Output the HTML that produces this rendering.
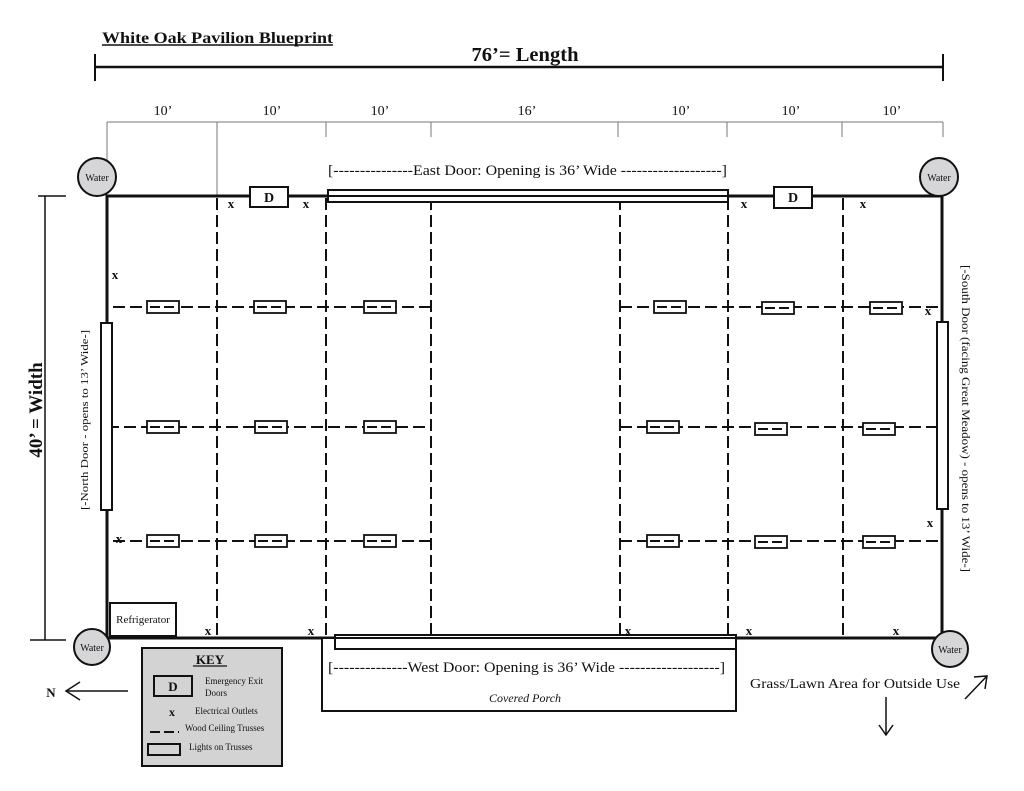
<!DOCTYPE html>
<html><head><style>
html,body{margin:0;padding:0;background:#fff;}
svg{display:block;}
text{font-family:"Liberation Serif",serif;fill:#111;}
</style></head><body>
<svg width="1024" height="791" viewBox="0 0 1024 791" xmlns="http://www.w3.org/2000/svg">
<!-- title -->
<text x="102" y="43" font-size="16" font-weight="bold" textLength="231" lengthAdjust="spacingAndGlyphs">White Oak Pavilion Blueprint</text>
<line x1="102" y1="45" x2="333" y2="45" stroke="#111" stroke-width="1.5"/>
<!-- length -->
<line x1="95" y1="67" x2="943" y2="67" stroke="#111" stroke-width="2.5"/>
<line x1="95" y1="54" x2="95" y2="81" stroke="#111" stroke-width="2"/>
<line x1="943" y1="54" x2="943" y2="81" stroke="#111" stroke-width="2"/>
<text x="525" y="61" font-size="20" font-weight="bold" text-anchor="middle" textLength="107" lengthAdjust="spacingAndGlyphs">76’= Length</text>
<!-- dimension ticks -->
<g stroke="#777" stroke-width="1">
<line x1="107" y1="122" x2="943" y2="122"/>
<line x1="107" y1="122" x2="107" y2="196"/>
<line x1="217" y1="122" x2="217" y2="196"/>
<line x1="326" y1="122" x2="326" y2="137"/>
<line x1="431" y1="122" x2="431" y2="137"/>
<line x1="618" y1="122" x2="618" y2="137"/>
<line x1="727" y1="122" x2="727" y2="137"/>
<line x1="842" y1="122" x2="842" y2="137"/>
<line x1="943" y1="122" x2="943" y2="137"/>
</g>
<g font-size="14" text-anchor="middle">
<text x="163" y="115">10’</text><text x="272" y="115">10’</text><text x="380" y="115">10’</text>
<text x="527" y="115">16’</text><text x="681" y="115">10’</text><text x="791" y="115">10’</text><text x="892" y="115">10’</text>
</g>
<!-- width -->
<line x1="45" y1="196" x2="45" y2="640" stroke="#111" stroke-width="1.5"/>
<line x1="38" y1="196" x2="66" y2="196" stroke="#111" stroke-width="1.5"/>
<line x1="30" y1="640" x2="66" y2="640" stroke="#111" stroke-width="1.5"/>
<text transform="translate(42,410) rotate(-90)" font-size="19" font-weight="bold" text-anchor="middle">40’ = Width</text>
<!-- trusses -->
<g stroke="#111" stroke-width="2" stroke-dasharray="12,5">
<line x1="217" y1="198" x2="217" y2="638"/>
<line x1="326" y1="198" x2="326" y2="638"/>
<line x1="431" y1="198" x2="431" y2="638"/>
<line x1="620" y1="198" x2="620" y2="638"/>
<line x1="728" y1="198" x2="728" y2="638"/>
<line x1="843" y1="198" x2="843" y2="638"/>
<line x1="113" y1="307" x2="431" y2="307"/>
<line x1="107" y1="427" x2="431" y2="427"/>
<line x1="113" y1="541" x2="431" y2="541"/>
<line x1="620" y1="307" x2="941" y2="307"/>
<line x1="620" y1="427" x2="941" y2="427"/>
<line x1="620" y1="541" x2="941" y2="541"/>
</g>
<!-- lights -->
<g fill="#fff" stroke="#111" stroke-width="1.8">
<rect x="147" y="301" width="32" height="12"/><rect x="254" y="301" width="32" height="12"/><rect x="364" y="301" width="32" height="12"/>
<rect x="147" y="421" width="32" height="12"/><rect x="255" y="421" width="32" height="12"/><rect x="364" y="421" width="32" height="12"/>
<rect x="147" y="535" width="32" height="12"/><rect x="255" y="535" width="32" height="12"/><rect x="364" y="535" width="32" height="12"/>
<rect x="654" y="301" width="32" height="12"/><rect x="762" y="302" width="32" height="12"/><rect x="870" y="302" width="32" height="12"/>
<rect x="647" y="421" width="32" height="12"/><rect x="755" y="423" width="32" height="12"/><rect x="863" y="423" width="32" height="12"/>
<rect x="647" y="535" width="32" height="12"/><rect x="755" y="536" width="32" height="12"/><rect x="863" y="536" width="32" height="12"/>
</g>
<g stroke="#111" stroke-width="2" stroke-dasharray="10,4">
<line x1="150" y1="307" x2="178" y2="307"/><line x1="257" y1="307" x2="285" y2="307"/><line x1="367" y1="307" x2="395" y2="307"/>
<line x1="150" y1="427" x2="178" y2="427"/><line x1="258" y1="427" x2="286" y2="427"/><line x1="367" y1="427" x2="395" y2="427"/>
<line x1="150" y1="541" x2="178" y2="541"/><line x1="258" y1="541" x2="286" y2="541"/><line x1="367" y1="541" x2="395" y2="541"/>
<line x1="657" y1="307" x2="685" y2="307"/><line x1="765" y1="308" x2="793" y2="308"/><line x1="873" y1="308" x2="901" y2="308"/>
<line x1="650" y1="427" x2="678" y2="427"/><line x1="758" y1="429" x2="786" y2="429"/><line x1="866" y1="429" x2="894" y2="429"/>
<line x1="650" y1="541" x2="678" y2="541"/><line x1="758" y1="542" x2="786" y2="542"/><line x1="866" y1="542" x2="894" y2="542"/>
</g>
<!-- walls -->
<rect x="107" y="196" width="835" height="442" fill="none" stroke="#111" stroke-width="3"/>
<!-- east door -->
<rect x="328" y="190" width="400" height="12" fill="#fff" stroke="#111" stroke-width="2"/>
<line x1="328" y1="196" x2="728" y2="196" stroke="#111" stroke-width="2"/>
<text x="328" y="175" font-size="15" textLength="399" lengthAdjust="spacingAndGlyphs">[---------------East Door: Opening is 36’ Wide -------------------]</text>
<!-- west porch -->
<rect x="322" y="638" width="414" height="73" fill="#fff" stroke="#111" stroke-width="2"/>
<rect x="335" y="635" width="401" height="14" fill="#fff" stroke="#111" stroke-width="2"/>
<line x1="335" y1="638" x2="736" y2="638" stroke="#111" stroke-width="2"/>
<text x="328" y="672" font-size="15" textLength="397" lengthAdjust="spacingAndGlyphs">[--------------West Door: Opening is 36’ Wide -------------------]</text>
<text x="525" y="702" font-size="12" font-style="italic" text-anchor="middle">Covered Porch</text>
<!-- D boxes -->
<rect x="250" y="187" width="38" height="20" fill="#fff" stroke="#111" stroke-width="2"/>
<text x="269" y="202" font-size="14" font-weight="bold" text-anchor="middle">D</text>
<rect x="774" y="187" width="38" height="21" fill="#fff" stroke="#111" stroke-width="2"/>
<text x="793" y="202" font-size="14" font-weight="bold" text-anchor="middle">D</text>
<!-- side doors -->
<rect x="101" y="323" width="11" height="187" fill="#fff" stroke="#111" stroke-width="2"/>
<rect x="937" y="322" width="11" height="187" fill="#fff" stroke="#111" stroke-width="2"/>
<text transform="translate(88,510) rotate(-90)" font-size="11" fill="#333" textLength="180" lengthAdjust="spacingAndGlyphs">[-North Door - opens to 13’ Wide-]</text>
<text transform="translate(962,265) rotate(90)" font-size="12" fill="#333" textLength="307" lengthAdjust="spacingAndGlyphs">[-South Door (facing Great Meadow) - opens to 13’ Wide-]</text>
<!-- outlets -->
<g font-size="13" font-weight="bold" text-anchor="middle">
<text x="231" y="208">x</text><text x="306" y="208">x</text><text x="744" y="208">x</text><text x="863" y="208">x</text>
<text x="115" y="279">x</text><text x="119" y="543">x</text><text x="928" y="315">x</text><text x="930" y="527">x</text>
<text x="208" y="635">x</text><text x="311" y="635">x</text><text x="628" y="635">x</text><text x="749" y="635">x</text><text x="896" y="635">x</text>
</g>
<!-- refrigerator -->
<rect x="110" y="603" width="66" height="33" fill="#fff" stroke="#111" stroke-width="2"/>
<text x="143" y="623" font-size="11" text-anchor="middle">Refrigerator</text>
<!-- water -->
<g fill="#d6d6d8" stroke="#111" stroke-width="2">
<circle cx="97" cy="177" r="19"/><circle cx="939" cy="177" r="19"/>
<circle cx="92" cy="647" r="18"/><circle cx="950" cy="649" r="18"/>
</g>
<g font-size="10" text-anchor="middle">
<text x="97" y="181">Water</text><text x="939" y="181">Water</text>
<text x="92" y="651">Water</text><text x="950" y="653">Water</text>
</g>
<!-- key -->
<rect x="142" y="648" width="140" height="118" fill="#d3d3d3" stroke="#111" stroke-width="2"/>
<text x="210" y="664" font-size="13" font-weight="bold" text-anchor="middle">KEY</text>
<line x1="193" y1="666" x2="227" y2="666" stroke="#111" stroke-width="1.2"/>
<rect x="154" y="676" width="38" height="20" fill="#d3d3d3" stroke="#111" stroke-width="2"/>
<text x="173" y="691" font-size="13" font-weight="bold" text-anchor="middle">D</text>
<text x="205" y="684" font-size="9">Emergency Exit</text>
<text x="205" y="696" font-size="9">Doors</text>
<text x="172" y="716" font-size="12" font-weight="bold" text-anchor="middle">x</text>
<text x="195" y="714" font-size="9">Electrical Outlets</text>
<line x1="150" y1="732" x2="179" y2="732" stroke="#111" stroke-width="2" stroke-dasharray="10,4"/>
<text x="185" y="731" font-size="9">Wood Ceiling Trusses</text>
<rect x="148" y="744" width="32" height="11" fill="#d3d3d3" stroke="#111" stroke-width="2"/>
<text x="189" y="750" font-size="9">Lights on Trusses</text>
<!-- N arrow -->
<line x1="128" y1="691" x2="66" y2="691" stroke="#111" stroke-width="1.5"/>
<polyline points="80,682 66,691 80,700" fill="none" stroke="#111" stroke-width="1.5"/>
<text x="51" y="697" font-size="13" font-weight="bold" text-anchor="middle">N</text>
<!-- grass -->
<text x="750" y="688" font-size="14" textLength="210" lengthAdjust="spacingAndGlyphs">Grass/Lawn Area for Outside Use</text>
<line x1="965" y1="699" x2="987" y2="676" stroke="#111" stroke-width="1.5"/>
<polyline points="974,677 987,676 985,689" fill="none" stroke="#111" stroke-width="1.5"/>
<line x1="886" y1="697" x2="886" y2="735" stroke="#111" stroke-width="1.5"/>
<polyline points="879,725 886,735 893,725" fill="none" stroke="#111" stroke-width="1.5"/>
</svg>
</body></html>
